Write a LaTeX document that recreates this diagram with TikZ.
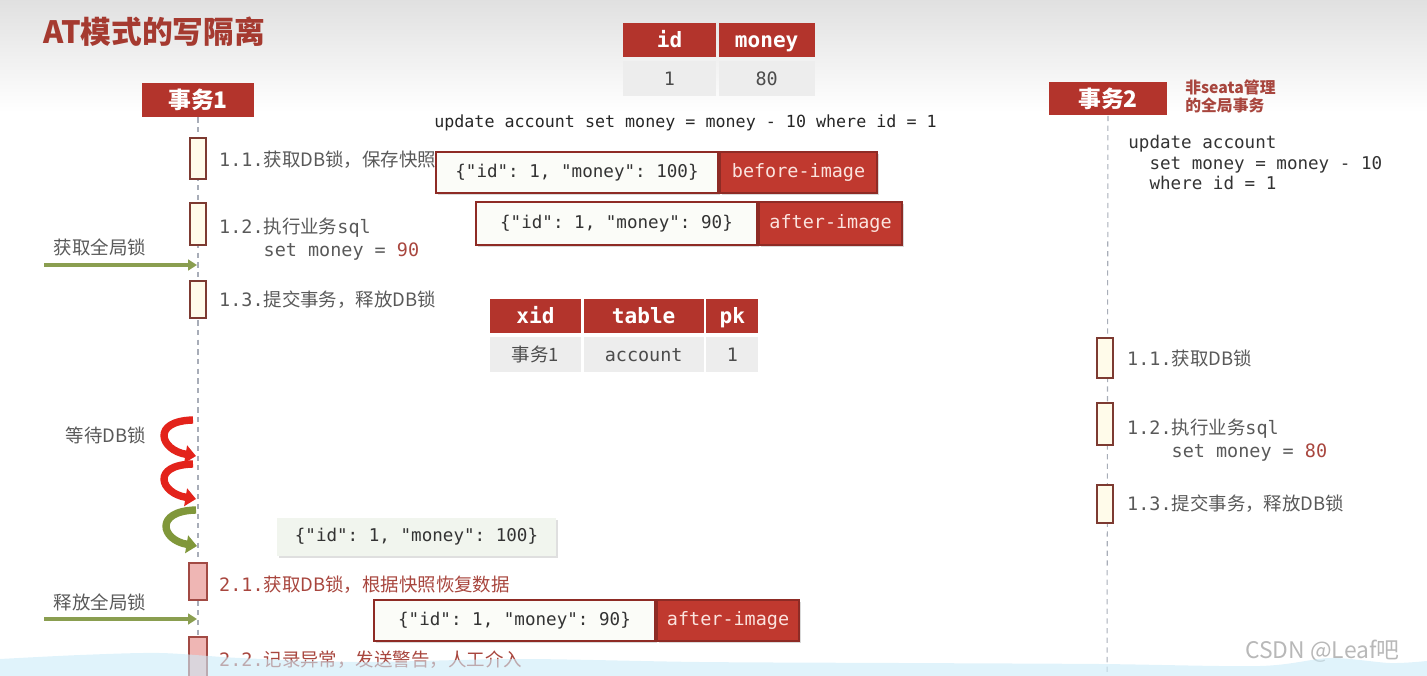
\documentclass[tikz,border=0pt]{standalone}
\usepackage{fontspec}
\setmainfont{Noto Sans CJK SC}
\setmonofont{DejaVu Sans Mono}
\usetikzlibrary{arrows.meta,positioning,shadows}
\definecolor{hdred}{HTML}{B3342C}
\definecolor{ttlred}{HTML}{A53A30}
\definecolor{lblgray}{HTML}{595959}
\definecolor{numred}{HTML}{A8463E}
\definecolor{actline}{HTML}{7D3A31}
\definecolor{actfill}{HTML}{FFFBEA}
\definecolor{pinkfill}{HTML}{EFB6B4}
\definecolor{pinkline}{HTML}{A24A44}
\definecolor{imgline}{HTML}{8E2B25}
\definecolor{imgred}{HTML}{C0392F}
\definecolor{tagtext}{HTML}{FBE3DE}
\definecolor{jsonfill}{HTML}{FBFCF8}
\definecolor{plainfill}{HTML}{F1F5EE}
\definecolor{cellgray}{HTML}{EDEDED}
\definecolor{garrow}{HTML}{8A9E50}
\definecolor{curlred}{HTML}{E3231B}
\definecolor{curlgreen}{HTML}{80973A}
\definecolor{lifegray}{HTML}{A8ADB8}
\definecolor{wave}{HTML}{CCEBF8}
\newcommand\lblfont{\fontsize{10.5}{13}\selectfont}
\begin{document}
\begin{tikzpicture}[x=0.02cm, y=-0.02cm,
    txbox/.style={fill=hdred, text=white, font=\fontsize{13}{15}\selectfont\bfseries, minimum height=0.68cm, inner sep=0pt},
    hcell/.style={fill=hdred, text=white, font=\ttfamily\bfseries\fontsize{12}{14}\selectfont, minimum height=0.68cm, inner sep=0pt,
      text height=0.9em, text depth=0pt},
    dcell/.style={fill=cellgray, text=black!70, font=\ttfamily\fontsize{10.5}{12}\selectfont, minimum height=0.7cm, inner sep=0pt,
      text height=0.8em, text depth=0pt},
    life/.style={draw=lifegray, line width=0.6pt, dash pattern=on 3pt off 2.5pt},
    act/.style={draw=actline, fill=actfill, line width=1pt, minimum width=0.32cm, inner sep=0pt},
    rback/.style={act, draw=pinkline, fill=pinkfill, minimum width=0.36cm},
    lbl/.style={text=lblgray, font=\lblfont, inner sep=0pt, align=left},
    code/.style={text=black!80, font=\ttfamily\fontsize{9.5}{11.6}\selectfont, inner sep=0pt, align=left},
    jbox/.style={draw=imgline, line width=1.2pt, fill=jsonfill, minimum height=0.82cm, inner sep=0pt, text=black!80,
      font=\ttfamily\fontsize{10}{12}\selectfont, drop shadow={opacity=0.3, shadow xshift=1.2pt, shadow yshift=-1.2pt}},
    tag/.style={jbox, fill=imgred, text=tagtext, font=\ttfamily\fontsize{10.5}{12}\selectfont},
    pbox/.style={fill=plainfill, minimum width=5.58cm, minimum height=0.76cm, inner sep=0pt, text=black!80,
      font=\ttfamily\fontsize{10}{12}\selectfont, drop shadow={opacity=0.25, shadow xshift=1.2pt, shadow yshift=-1.2pt}},
    garr/.style={draw=garrow, line width=1.8pt, -{Triangle[length=5pt,width=6pt]}},
    curl/.style={line width=4.2pt, -{Triangle[length=6pt,width=10pt]}},
    wmtext/.style={text=black!28, font=\fontsize{13}{15}\selectfont, inner sep=0pt}
  ]
    \useasboundingbox (0,0) rectangle (1427,676);
    \shade[top color=black!12, bottom color=white] (0,0) rectangle (1427,112);
    \node[anchor=west, text=ttlred, font=\fontsize{17.5}{20}\selectfont\bfseries, inner sep=0pt] (title) at (43,32) {AT模式的写隔离};

    \node[hcell, minimum width=1.86cm] (hid) at (669.5,40) {id};
    \node[hcell, minimum width=1.92cm, right=0.04cm of hid] (hmoney) {money};
    \node[dcell, minimum width=1.86cm, below=0.06cm of hid] (did) {1};
    \node[dcell, minimum width=1.92cm, below=0.06cm of hmoney] (dmoney) {80};
    \node[code, text=black!85] (upd) at (685.5,123) {update account set money = money - 10 where id = 1};

    \node[txbox, minimum width=2.24cm] (tx1) at (198,100) {事务1};
    \node[txbox, minimum width=2.36cm] (tx2) at (1108,98.5) {事务2};
    \node[anchor=north west, text=numred, font=\fontsize{9}{10.4}\selectfont\bfseries, inner sep=0pt, align=left] (note2) at (1185,79) {非seata管理\\的全局事务};
    \coordinate (end1) at (198,690);
    \coordinate (end2) at (1107,690);
    \draw[life] (tx1) -- (end1);
    \draw[life] (tx2) -- (end2);

    \node[act, minimum height=0.82cm] (a1) at (198,158.5) {};
    \node[act, minimum height=0.84cm] (a2) at (198,224) {};
    \node[act, minimum height=0.74cm] (a3) at (198,299.5) {};
    \node[rback, minimum height=0.74cm] (b1) at (198,581.5) {};
    \node[rback, minimum height=0.86cm] (b2) at (198,658.5) {};
    \node[lbl, right=0.24cm of a1, yshift=-0.03cm] (l11) {\texttt{1.1.}获取DB锁，保存快照};
    \node[lbl, right=0.24cm of a2, yshift=-0.31cm] (l12) {\texttt{1.2.}执行业务\texttt{sql}\\\hphantom{\texttt{1.2.}}\texttt{set money = }\textcolor{numred}{\texttt{90}}};
    \node[lbl, right=0.24cm of a3] (l13) {\texttt{1.3.}提交事务，释放DB锁};
    \node[lbl, text=numred, right=0.22cm of b1, yshift=-0.07cm] (l21) {\texttt{2.1.}获取DB锁，根据快照恢复数据};
    \node[lbl, text=numred, right=0.22cm of b2, yshift=-0.02cm] (l22) {\texttt{2.2.}记录异常，发送警告，人工介入};

    \node[jbox, minimum width=5.64cm] (bjson) at (577,172.5) {\{"id": 1, "money": 100\}};
    \node[tag, minimum width=3.14cm, right=0pt of bjson] (btag) {before-image};
    \node[jbox, minimum width=5.62cm, minimum height=0.86cm] (ajson) at (616.5,223.5) {\{"id": 1, "money": 90\}};
    \node[tag, minimum width=2.86cm, minimum height=0.86cm, right=0pt of ajson] (atag) {after-image};

    \node[hcell, minimum width=1.82cm] (hxid) at (535.5,316) {xid};
    \node[hcell, minimum width=2.4cm, right=0.04cm of hxid] (htable) {table};
    \node[hcell, minimum width=1.04cm, right=0.04cm of htable] (hpk) {pk};
    \node[dcell, minimum width=1.82cm, below=0.06cm of hxid, font=\lblfont] (dxid) {事务1};
    \node[dcell, minimum width=2.4cm, below=0.06cm of htable] (dtable) {account};
    \node[dcell, minimum width=1.04cm, below=0.06cm of hpk] (dpk) {1};

    \coordinate (g1s) at (44,265);
    \coordinate (g1e) at (197,265);
    \draw[garr] (g1s) -- (g1e);
    \node[lbl] (getg) at (100,247) {获取全局锁};
    \coordinate (g2s) at (44,619);
    \coordinate (g2e) at (197,619);
    \draw[garr] (g2s) -- (g2e);
    \node[lbl] (relg) at (100,602) {释放全局锁};

    \node[lbl] (wait) at (106,435) {等待DB锁};
    \coordinate (w1s) at (193,420);
    \coordinate (w1e) at (196,456);
    \coordinate (w2s) at (193,464);
    \coordinate (w2e) at (196,499);
    \coordinate (w3s) at (196,510);
    \coordinate (w3e) at (197,546);
    \draw[curl, draw=curlred] (w1s) .. controls +(-42,1) and +(-36,-6) .. (w1e);
    \draw[curl, draw=curlred] (w2s) .. controls +(-42,1) and +(-36,-6) .. (w2e);
    \draw[curl, draw=curlgreen] (w3s) .. controls +(-42,1) and +(-36,-6) .. (w3e);

    \node[pbox] (oldjson) at (416.5,537) {\{"id": 1, "money": 100\}};
    \node[jbox, minimum width=5.62cm] (cjson) at (514.5,620.5) {\{"id": 1, "money": 90\}};
    \node[tag, minimum width=2.84cm, right=0pt of cjson] (ctag) {after-image};

    \node[act, minimum height=0.8cm] (c1) at (1105,358) {};
    \node[act, minimum height=0.84cm] (c2) at (1105,424) {};
    \node[act, minimum height=0.76cm] (c3) at (1105,504) {};
    \node[lbl, right=0.26cm of c1] (r11) {\texttt{1.1.}获取DB锁};
    \node[lbl, right=0.26cm of c2, yshift=-0.32cm] (r12) {\texttt{1.2.}执行业务\texttt{sql}\\\hphantom{\texttt{1.2.}}\texttt{set money = }\textcolor{numred}{\texttt{80}}};
    \node[lbl, right=0.26cm of c3] (r13) {\texttt{1.3.}提交事务，释放DB锁};
    \node[code, anchor=north west, font=\ttfamily\fontsize{10}{11.6}\selectfont] (sql2) at (1128,135) {update account\\\hphantom{up}set money = money - 10\\\hphantom{up}where id = 1};

    \node[wmtext, anchor=west] (wm) at (1245,651) {CSDN @Leaf吧};
    \fill[wave, fill opacity=0.6] (0,680) -- plot[smooth] coordinates {(0,659) (80,655) (160,653) (240,658) (360,662) (520,659) (700,662) (900,663) (1100,664) (1260,666) (1330,658) (1390,663) (1427,661)} -- (1427,680) -- cycle;
\end{tikzpicture}
\end{document}
